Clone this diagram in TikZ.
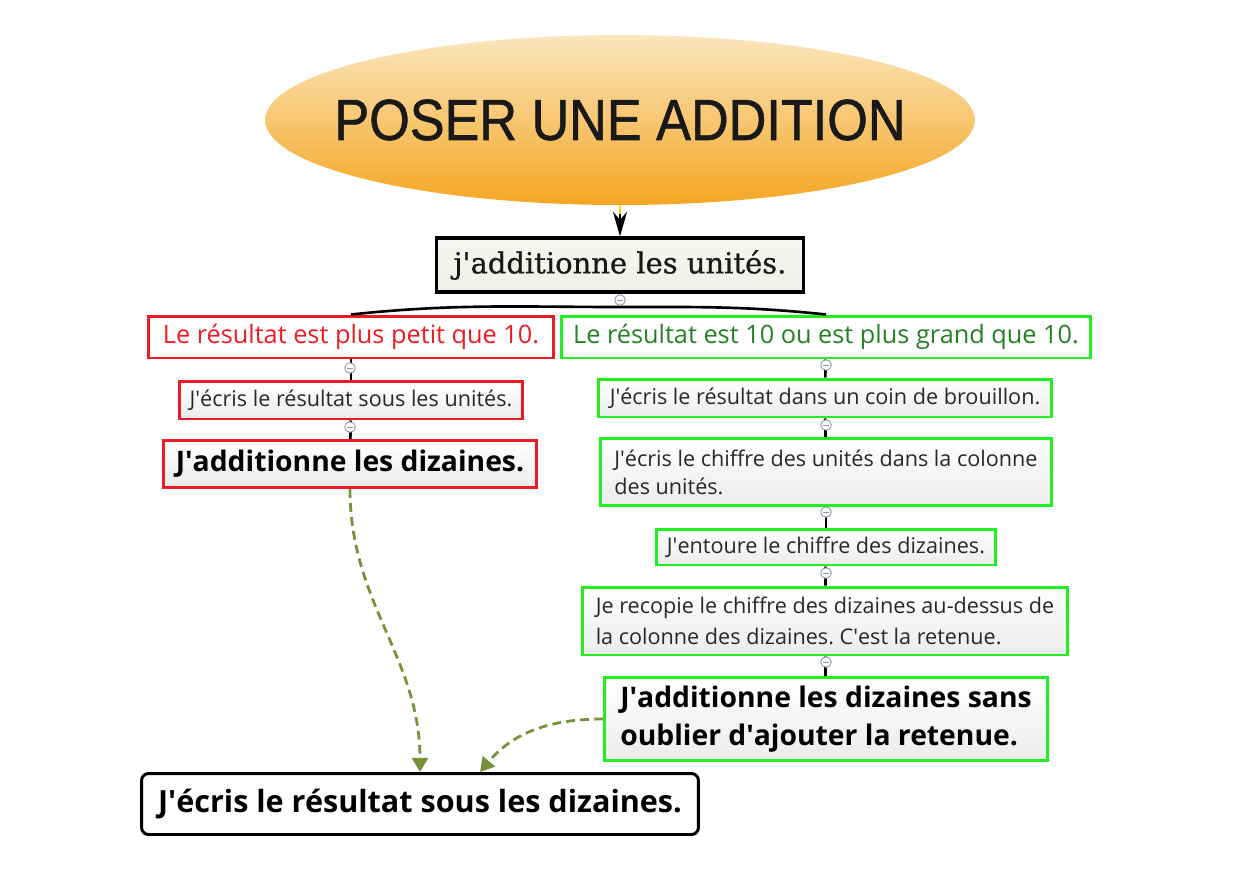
\documentclass[tikz,border=0pt]{standalone}
\usepackage{fontspec}
\setmainfont{Open Sans}
\newfontfamily\titlefont[FakeStretch=0.9, FakeBold=1]{Liberation Sans}
\newfontfamily\slabfont[FakeBold=0.8]{DejaVu Serif}
\usetikzlibrary{shapes.geometric,arrows.meta}
\frenchspacing

\definecolor{redline}{RGB}{237,28,36}
\definecolor{greenline}{RGB}{34,238,34}
\definecolor{greentext}{RGB}{38,128,38}
\definecolor{dashgreen}{RGB}{118,146,60}
\definecolor{orangetop}{RGB}{251,230,190}
\definecolor{orangebot}{RGB}{244,166,35}
\definecolor{textgray}{RGB}{40,40,40}
\definecolor{boxgray}{RGB}{236,236,236}
\definecolor{beige}{RGB}{241,239,233}
\definecolor{markgray}{RGB}{140,150,170}
\newcommand{\ap}{\textquotesingle}

\begin{document}
\begin{tikzpicture}[x=0.02cm, y=-0.02cm,
		box/.style={rectangle, draw, line width=1.7pt, align=center, text=textgray, top color=white, bottom color=boxgray, inner sep=4pt},
		redbox/.style={box, draw=redline},
		greenbox/.style={box, draw=greenline},
		link/.style={draw=black, line width=1.5pt},
		dashlink/.style={draw=dashgreen, line width=1.6pt, dash pattern=on 5pt off 3pt, -{Triangle[length=8pt,width=9pt]}},
		marker/.style={circle, draw=markgray, fill=white, inner sep=0pt, minimum size=6pt, line width=0.5pt,
			path picture={\draw[markgray, line width=0.5pt] ([xshift=1.2pt]path picture bounding box.west) -- ([xshift=-1.2pt]path picture bounding box.east);}}
		]
		\useasboundingbox (0,0) rectangle (1234,872);
		
		% title and first step
		\node[ellipse, minimum width=14.2cm, minimum height=3.4cm, top color=orangetop, bottom color=orangebot] (title) at (620,120) {};
		\node[text=black!90, font=\titlefont\fontsize{33}{36}\selectfont] (titletext) at (title.center) {POSER UNE ADDITION};
		\node[box, draw=black, line width=1.8pt, top color=beige!60, bottom color=beige, minimum width=7.35cm, minimum height=1.08cm, text=black!90,
			font=\slabfont\fontsize{16.5}{20}\selectfont] (unites) at (620,265) {j\ap additionne les unités.};
		
		% left branch (result under 10)
		\node[redbox, bottom color=white, text=redline, minimum width=8.1cm, minimum height=0.84cm, font=\fontsize{14.4}{17}\selectfont] (L1) at (351,337) {Le résultat est plus petit que 10.};
		\node[redbox, minimum width=6.88cm, minimum height=0.76cm, font=\fontsize{12.3}{14}\selectfont] (L2) at (351,400) {J\ap écris le résultat sous les unités.};
		\node[redbox, text=black, minimum width=7.46cm, minimum height=0.94cm, font=\bfseries\fontsize{16.1}{19}\selectfont] (L3) at (350,464) {J\ap additionne les dizaines.};
		
		% right branch (result 10 or more)
		\node[greenbox, bottom color=white, text=greentext, minimum width=10.6cm, minimum height=0.84cm, font=\fontsize{14.4}{17}\selectfont] (R1) at (826,337) {Le résultat est 10 ou est plus grand que 10.};
		\node[greenbox, minimum width=9.06cm, minimum height=0.76cm, font=\fontsize{12.3}{14}\selectfont] (R2) at (825,398) {J\ap écris le résultat dans un coin de brouillon.};
		\node[greenbox, align=left, minimum width=9.02cm, minimum height=1.34cm, font=\fontsize{12.3}{16}\selectfont] (R3) at (826,472) {J\ap écris le chiffre des unités dans la colonne\\des unités.};
		\node[greenbox, minimum width=6.8cm, minimum height=0.72cm, font=\fontsize{12.3}{14}\selectfont] (R4) at (826,547) {J\ap entoure le chiffre des dizaines.};
		\node[greenbox, align=left, minimum width=9.7cm, minimum height=1.36cm, font=\fontsize{12.3}{17.5}\selectfont] (R5) at (825,621) {Je recopie le chiffre des dizaines au-dessus de\\la colonne des dizaines. C\ap est la retenue.};
		\node[greenbox, align=left, text=black, minimum width=8.86cm, minimum height=1.66cm, font=\bfseries\fontsize{16.1}{21.5}\selectfont] (R6) at (826,719) {J\ap additionne les dizaines sans\\oublier d\ap ajouter la retenue.};
		
		% common last step
		\node[box, draw=black, rounded corners=4pt, bottom color=white, text=black, minimum width=11.14cm, minimum height=1.22cm,
			font=\bfseries\fontsize{17.4}{20}\selectfont] (final) at (420,804) {J\ap écris le résultat sous les dizaines.};
		
		% connectors
		\draw[draw=yellow!70!orange, line width=1pt] (title.south) -- ++(0,9) coordinate (stem);
		\draw[link, -{Stealth[length=14pt,width=8pt]}] (stem) -- (unites.north);
		\coordinate (fork) at (620,307);
		\draw[link] (fork) to[out=180, in=6] (L1.north);
		\draw[link] (fork) to[out=0, in=174] (R1.north);
		\draw[link] (L1) -- (L2);
		\draw[link] (L2) -- (L3);
		\draw[link] (R1) -- (R2);
		\draw[link] (R2) -- (R3);
		\draw[link] (R3) -- (R4);
		\draw[link] (R4) -- (R5);
		\draw[link] (R5) -- (R6);
		
		% collapse markers
		\node[marker] (m0) at (620,300) {};
		\node[marker] (mL1) at (350,368) {};
		\node[marker] (mL2) at (350,427) {};
		\node[marker] (mR1) at (826,365) {};
		\node[marker] (mR2) at (826,425) {};
		\node[marker] (mR3) at (826,512) {};
		\node[marker] (mR4) at (826,573) {};
		\node[marker] (mR5) at (826,662) {};
		
		% dashed links to the last step
		\draw[dashlink] (L3.south) to[out=-90, in=90] (final.north);
		\draw[dashlink] (R6.west) to[out=180, in=50] ([xshift=1.2cm]final.north);
	\end{tikzpicture}
\end{document}
